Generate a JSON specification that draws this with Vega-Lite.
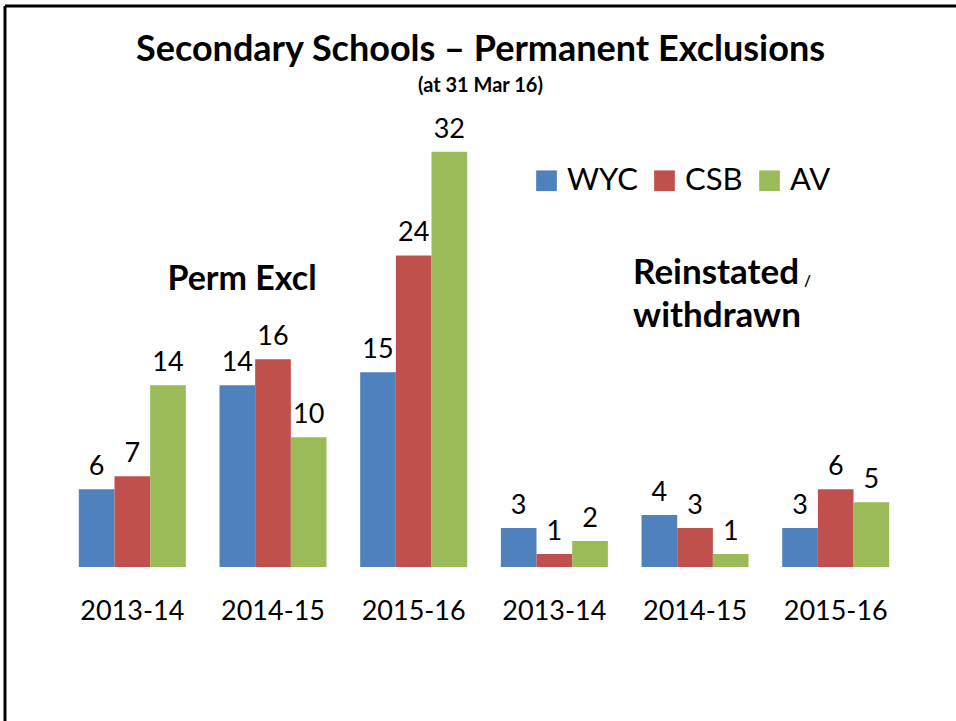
{
  "$schema": "https://vega.github.io/schema/vega-lite/v6.json",
  "width": 951,
  "height": 715,
  "autosize": "none",
  "padding": {"left": 5, "top": 6, "right": 0, "bottom": 0},
  "background": "white",
  "config": {
    "font": "Lato",
    "view": {"stroke": "black", "strokeWidth": 3, "strokeDash": [951, 1666, 715, 0]}
  },
  "title": {
    "text": "Secondary Schools – Permanent Exclusions",
    "subtitle": "(at 31 Mar 16)",
    "anchor": "middle",
    "frame": "group",
    "orient": "top",
    "offset": -91,
    "font": "Lato",
    "fontSize": 36,
    "fontWeight": "bold",
    "color": "black",
    "subtitleFont": "Lato",
    "subtitleFontSize": 20,
    "subtitleFontWeight": "bold",
    "subtitleColor": "black",
    "subtitlePadding": 7
  },
  "data": {
    "values": [
      {"slot": "P 2013-14", "series": "WYC", "value": 6},
      {"slot": "P 2013-14", "series": "CSB", "value": 7},
      {"slot": "P 2013-14", "series": "AV", "value": 14},
      {"slot": "P 2014-15", "series": "WYC", "value": 14},
      {"slot": "P 2014-15", "series": "CSB", "value": 16},
      {"slot": "P 2014-15", "series": "AV", "value": 10},
      {"slot": "P 2015-16", "series": "WYC", "value": 15},
      {"slot": "P 2015-16", "series": "CSB", "value": 24},
      {"slot": "P 2015-16", "series": "AV", "value": 32},
      {"slot": "R 2013-14", "series": "WYC", "value": 3},
      {"slot": "R 2013-14", "series": "CSB", "value": 1},
      {"slot": "R 2013-14", "series": "AV", "value": 2},
      {"slot": "R 2014-15", "series": "WYC", "value": 4},
      {"slot": "R 2014-15", "series": "CSB", "value": 3},
      {"slot": "R 2014-15", "series": "AV", "value": 1},
      {"slot": "R 2015-16", "series": "WYC", "value": 3},
      {"slot": "R 2015-16", "series": "CSB", "value": 6},
      {"slot": "R 2015-16", "series": "AV", "value": 5}
    ]
  },
  "encoding": {
    "x": {
      "field": "slot",
      "type": "nominal",
      "sort": null,
      "scale": {"type": "band", "paddingInner": 0, "paddingOuter": 0.38, "align": 0.533},
      "axis": {
        "orient": "bottom",
        "offset": -154,
        "title": null,
        "domain": false,
        "ticks": false,
        "labelExpr": "substring(datum.value, 2)",
        "labelFont": "Lato",
        "labelFontSize": 27,
        "labelColor": "black",
        "labelAngle": 0,
        "labelBaseline": "alphabetic",
        "labelPadding": 52
      }
    },
    "y": {
      "field": "value",
      "type": "quantitative",
      "stack": null,
      "scale": {"domain": [-11.86, 43.22], "nice": false, "zero": false},
      "axis": null
    }
  },
  "layer": [
    {
      "mark": {"type": "bar"},
      "encoding": {
        "xOffset": {
          "field": "series",
          "type": "nominal",
          "sort": ["WYC", "CSB", "AV"],
          "scale": {"domain": ["WYC", "CSB", "AV"], "paddingInner": 0, "paddingOuter": 0.472}
        },
        "color": {
          "field": "series",
          "type": "nominal",
          "sort": ["WYC", "CSB", "AV"],
          "scale": {"domain": ["WYC", "CSB", "AV"], "range": ["#4F81BD", "#C0504D", "#9BBB59"]},
          "legend": {
            "title": null,
            "orient": "none",
            "direction": "horizontal",
            "legendX": 526,
            "legendY": 159,
            "padding": 0,
            "symbolType": "square",
            "symbolSize": 428,
            "symbolStrokeWidth": 0,
            "symbolOpacity": 1,
            "labelFont": "Lato",
            "labelFontSize": 31,
            "labelColor": "black",
            "labelOffset": 5,
            "columnPadding": 11,
            "labelLimit": 300
          }
        }
      }
    },
    {
      "mark": {"type": "text", "baseline": "alphabetic", "dy": -14, "font": "Lato", "fontSize": 27, "color": "black"},
      "encoding": {
        "xOffset": {"field": "series", "type": "nominal", "sort": ["WYC", "CSB", "AV"]},
        "text": {"field": "value", "type": "quantitative"}
      }
    },
    {
      "data": {"values": [{"y": 0}]},
      "mark": {"type": "rule", "color": "#8C8C8C", "strokeWidth": 1.5},
      "encoding": {
        "x": {"datum": "P 2013-14", "bandPosition": 0},
        "x2": {"datum": "R 2015-16", "bandPosition": 1},
        "y": {"datum": 0}
      }
    },
    {
      "data": {"values": [{"slot": "P 2014-15", "value": 21.34, "label": "Perm Excl"}]},
      "mark": {"type": "text", "align": "center", "baseline": "alphabetic", "dx": -31, "font": "Lato", "fontSize": 34, "fontWeight": "bold", "color": "black"},
      "encoding": {
        "text": {"field": "label", "type": "nominal"}
      }
    },
    {
      "data": {"values": [
        {"slot": "R 2014-15", "value": 21.78, "label": "Reinstated"},
        {"slot": "R 2014-15", "value": 18.47, "label": "withdrawn"}
      ]},
      "mark": {"type": "text", "align": "left", "baseline": "alphabetic", "dx": -62, "font": "Lato", "fontSize": 35, "fontWeight": "bold", "color": "black"},
      "encoding": {
        "text": {"field": "label", "type": "nominal"}
      }
    },
    {
      "data": {"values": [{"slot": "R 2014-15", "value": 21.65, "label": "/"}]},
      "mark": {"type": "text", "align": "left", "baseline": "alphabetic", "dx": 109, "font": "Lato", "fontSize": 15, "fontWeight": "bold", "color": "black"},
      "encoding": {
        "text": {"field": "label", "type": "nominal"}
      }
    }
  ]
}
